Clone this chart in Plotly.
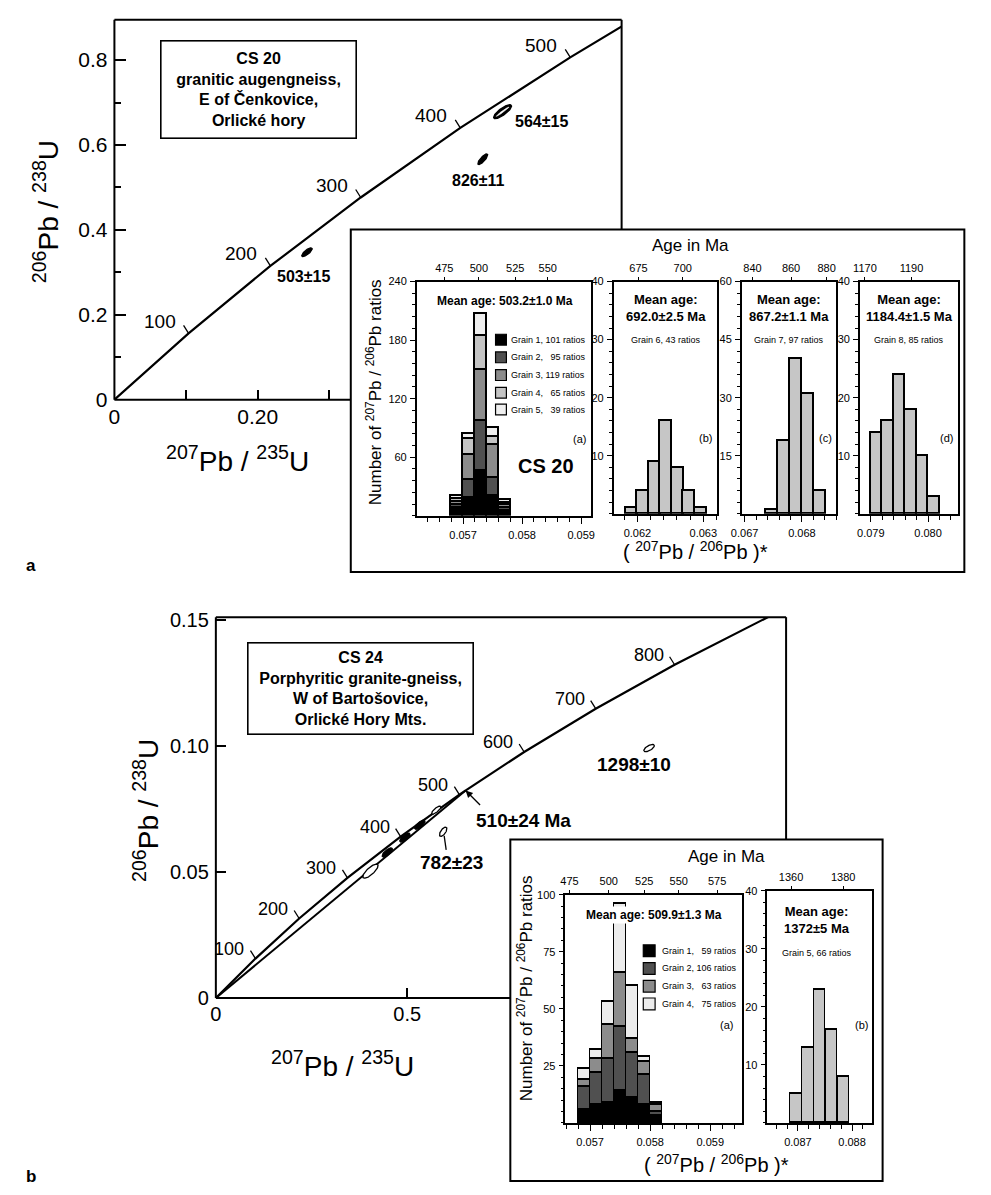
import numpy as np
import plotly.graph_objects as go

W, H = 991, 1195
FONT = "Liberation Sans, Arial, Helvetica, sans-serif"

def PX(x): return x / W
def PY(y): return 1 - y / H
def DX(a, b): return [a / W, b / W]
def DY(top, bottom): return [1 - bottom / H, 1 - top / H]

# ======================= DATA =======================
# Concordia (a)  (206Pb/238U axis as labelled in the figure)
conc_a_age = [0, 100, 200, 300, 400, 500, 560]
conc_a_x = [0.0, 0.1035, 0.2177, 0.3438, 0.4828, 0.6363, 0.7359]
conc_a_y = [0.0, 0.1563, 0.3151, 0.4764, 0.6402, 0.8065, 0.9075]
conc_a_tick_ages = [100, 200, 300, 400, 500]

# Concordia (b)
conc_b_age = [0, 100, 200, 300, 400, 500, 600, 700, 800, 910]
conc_b_x = [0.0, 0.1035, 0.2177, 0.3438, 0.4828, 0.6363, 0.8056, 0.9925, 1.1987, 1.4503]
conc_b_y = [0.0, 0.01563, 0.03151, 0.04764, 0.06402, 0.08065, 0.09754, 0.11470, 0.13213, 0.15161]
conc_b_tick_ages = [100, 200, 300, 400, 500, 600, 700, 800]
disc_b_x = [0.0, 0.6525]
disc_b_y = [0.0, 0.0823]
intercept_label = "510±24 Ma"

# Analyses (ellipse centres)
ell_a_label = ["503±15", "564±15", "826±11"]
ell_a_x = [0.2688, 0.5418, 0.5142]
ell_a_y = [0.3474, 0.6785, 0.5666]

ell_b_label = ["", "", "", "", "", "782±23", "1298±10"]
ell_b_x = [0.404, 0.448, 0.494, 0.533, 0.576, 0.594, 1.132]
ell_b_y = [0.0503, 0.0577, 0.0636, 0.0687, 0.0745, 0.0659, 0.0991]

# Histograms (207Pb/206Pb)*
aa_bins = [0.0569, 0.0571, 0.0573, 0.0575, 0.0577]
aa_grains = [
    [8, 19, 46, 21, 5],
    [3, 18, 52, 18, 3],
    [4, 26, 52, 34, 3],
    [3, 16, 35, 8, 3],
    [3, 5, 22, 9, 3],
]
aa_grain_n = [101, 95, 119, 65, 39]
aa_width = 0.0002

ab_bins = [0.06191, 0.06208, 0.06226, 0.06243, 0.06261, 0.06278, 0.06296]
ab_counts = [1, 4, 9, 16, 8, 4, 1]
ab_width = 0.000175

ac_bins = [0.06747, 0.06768, 0.06789, 0.06810, 0.06831]
ac_counts = [1, 19, 40, 31, 6]
ac_width = 0.00021

ad_bins = [0.0791, 0.0793, 0.0795, 0.0797, 0.0799, 0.0801]
ad_counts = [14, 16, 24, 18, 10, 3]
ad_width = 0.0002

ba_bins = [0.0569, 0.0571, 0.0573, 0.0575, 0.0577, 0.0579, 0.0581]
ba_grains = [
    [6, 8, 9, 14, 11, 8, 3],
    [10, 14, 19, 28, 20, 13, 2],
    [3, 6, 15, 24, 6, 6, 3],
    [5, 4, 10, 30, 23, 2, 1],
]
ba_grain_n = [59, 106, 63, 75]
ba_width = 0.0002

bb_bins = [0.08697, 0.08719, 0.08741, 0.08763, 0.08785]
bb_counts = [5, 13, 23, 16, 8]
bb_width = 0.00021

# Age (Ma) tick labels of the top axes and their (207Pb/206Pb)* positions
aa_age = [475, 500, 525, 550]
aa_age_pos = [0.056683, 0.057267, 0.057883, 0.058433]
ab_age = [675, 700]
ab_age_pos = [0.062015, 0.062687]
ac_age = [840, 860, 880]
ac_age_pos = [0.067138, 0.06781, 0.068431]
ad_age = [1170, 1190]
ad_age_pos = [0.078897, 0.07971]
ba_age = [475, 500, 525, 550, 575]
ba_age_pos = [0.056656, 0.057311, 0.057902, 0.058475, 0.059115]
bb_age = [1360, 1380]
bb_age_pos = [0.086873, 0.087836]

# ======================= STYLE / LAYOUT =======================
GRAIN_COL_A = ["#000000", "#505050", "#8c8c8c", "#c4c4c4", "#efefef"]
GRAIN_COL_B = ["#000000", "#505050", "#8c8c8c", "#ececec"]
SINGLE_COL = "#c6c6c6"

# subplot boxes in pixels (left, right, top, bottom)
CA = (105, 620, 12, 398); CA_RX = [0, 0.708]; CA_RY = [0, 0.895]
CB = (208, 787, 619, 1006); CB_RX = [0, 1.49]; CB_RY = [0, 0.151]
INSET_A = (345, 968, 225, 573)
INSET_B = (507, 885, 845, 1192)

AA = (412, 589, 278, 516); AA_RX = [0.056217, 0.059167]; AA_RY = [0, 240]
AB = (612, 717, 278, 514); AB_RX = [0.06164, 0.06321]; AB_RY = [0, 40]
AC = (742, 838, 278, 514); AC_RX = [0.06695, 0.0686]; AC_RY = [0, 60]
AD = (862, 962, 278, 514); AD_RX = [0.07881, 0.08053]; AD_RY = [0, 40]
BA = (563, 742, 901, 1133); BA_RX = [0.05659, 0.059525]; BA_RY = [0, 100]
BB = (768, 874, 897, 1133); BB_RX = [0.086436, 0.088364]; BB_RY = [0, 40]

# ellipse geometry (pixels): length, width, angle, style
ell_a_len = [13, 22, 14]; ell_a_wid = [4.5, 7, 4.5]; ell_a_ang = [38, 36, 48]
ell_a_style = ["filled", "slit", "filled"]
ell_a_lbl_off = [(-3, -24), (39, -10), (-5, -21)]

ell_b_len = [20, 13, 13, 13, 12, 11, 12]; ell_b_wid = [7, 5, 5, 5, 4, 5, 5]
ell_b_ang = [42, 40, 40, 40, 40, 55, 30]
ell_b_style = ["open", "filled", "filled", "filled", "open", "open", "open"]
ell_b_lbl_off = [None, None, None, None, None, (8, -31), (-15, -16)]

fig = go.Figure()


def scale(box, rx, ry):
    return (box[1] - box[0]) / (rx[1] - rx[0]), (box[3] - box[2]) / (ry[1] - ry[0])


def ellipse_xy(cx, cy, L, Wd, ang, sx, sy):
    t = np.linspace(0, 2 * np.pi, 90)
    u = L / 2 * np.cos(t)
    v = Wd / 2 * np.sin(t)
    th = np.radians(ang)
    X = u * np.cos(th) - v * np.sin(th)
    Y = u * np.sin(th) + v * np.cos(th)
    return cx + X / sx, cy + Y / sy


def add_ellipse(cx, cy, L, Wd, ang, sx, sy, style, xa, ya):
    ex, ey = ellipse_xy(cx, cy, L, Wd, ang, sx, sy)
    fill = "white" if style == "open" else "black"
    fig.add_trace(go.Scatter(x=ex, y=ey, mode="lines", fill="toself", fillcolor=fill,
                             line=dict(color="black", width=1.3),
                             xaxis=xa, yaxis=ya, hoverinfo="skip", showlegend=False))
    if style == "slit":
        ix, iy = ellipse_xy(cx, cy, L * 0.72, 1.6, ang, sx, sy)
        fig.add_trace(go.Scatter(x=ix, y=iy, mode="lines", fill="toself", fillcolor="white",
                                 line=dict(color="white", width=0.6),
                                 xaxis=xa, yaxis=ya, hoverinfo="skip", showlegend=False))


annotations = []
shapes = []


def ann(text, x, y, size, xanchor="center", yanchor="middle", **kw):
    d = dict(text=text, x=PX(x), y=PY(y), xref="paper", yref="paper", showarrow=False,
             font=dict(family=FONT, size=size, color="black"), xanchor=xanchor, yanchor=yanchor)
    d.update(kw)
    annotations.append(d)


# ---------------- concordia (a) ----------------
fig.add_trace(go.Scatter(x=conc_a_x, y=conc_a_y, mode="lines", line=dict(color="black", width=2.2),
                         xaxis="x", yaxis="y", hoverinfo="skip", showlegend=False))
sxa, sya = scale(CA, CA_RX, CA_RY)
for i in range(len(ell_a_x)):
    add_ellipse(ell_a_x[i], ell_a_y[i], ell_a_len[i], ell_a_wid[i], ell_a_ang[i], sxa, sya,
                ell_a_style[i], "x", "y")
    dxo, dyo = ell_a_lbl_off[i]
    annotations.append(dict(text="<b>%s</b>" % ell_a_label[i], x=ell_a_x[i], y=ell_a_y[i], xref="x", yref="y",
                            xshift=dxo, yshift=dyo, showarrow=False,
                            font=dict(family=FONT, size=16, color="black")))
for age in conc_a_tick_ages:
    k = conc_a_age.index(age)
    shapes.append(dict(type="line", xref="x", yref="y", xsizemode="pixel", ysizemode="pixel",
                       xanchor=conc_a_x[k], yanchor=conc_a_y[k], x0=0, y0=0, x1=-5, y1=8,
                       line=dict(color="black", width=1.3)))
    annotations.append(dict(text=str(age), x=conc_a_x[k], y=conc_a_y[k], xref="x", yref="y",
                            xanchor="right", yanchor="middle", xshift=-11, yshift=12, showarrow=False,
                            font=dict(family=FONT, size=19, color="black")))

# ---------------- concordia (b) ----------------
fig.add_trace(go.Scatter(x=conc_b_x, y=conc_b_y, mode="lines", line=dict(color="black", width=2.2),
                         xaxis="x2", yaxis="y2", hoverinfo="skip", showlegend=False))
fig.add_trace(go.Scatter(x=disc_b_x, y=disc_b_y, mode="lines", line=dict(color="black", width=2.0),
                         xaxis="x2", yaxis="y2", hoverinfo="skip", showlegend=False))
sxb, syb = scale(CB, CB_RX, CB_RY)
for i in range(len(ell_b_x)):
    add_ellipse(ell_b_x[i], ell_b_y[i], ell_b_len[i], ell_b_wid[i], ell_b_ang[i], sxb, syb,
                ell_b_style[i], "x2", "y2")
    if ell_b_label[i]:
        dxo, dyo = ell_b_lbl_off[i]
        annotations.append(dict(text="<b>%s</b>" % ell_b_label[i], x=ell_b_x[i], y=ell_b_y[i],
                                xref="x2", yref="y2", xshift=dxo, yshift=dyo, showarrow=False,
                                font=dict(family=FONT, size=19, color="black")))
# leader line from the 782 ellipse
k782 = ell_b_label.index("782±23")
shapes.append(dict(type="line", xref="x2", yref="y2", xsizemode="pixel", ysizemode="pixel",
                   xanchor=ell_b_x[k782], yanchor=ell_b_y[k782], x0=1, y0=-4, x1=3, y1=-18,
                   line=dict(color="black", width=1.3)))
for age in conc_b_tick_ages:
    k = conc_b_age.index(age)
    shapes.append(dict(type="line", xref="x2", yref="y2", xsizemode="pixel", ysizemode="pixel",
                       xanchor=conc_b_x[k], yanchor=conc_b_y[k], x0=0, y0=0, x1=-5, y1=8,
                       line=dict(color="black", width=1.3)))
    annotations.append(dict(text=str(age), x=conc_b_x[k], y=conc_b_y[k], xref="x2", yref="y2",
                            xanchor="right", yanchor="middle", xshift=-9, yshift=10, showarrow=False,
                            font=dict(family=FONT, size=18, color="black")))
# upper intercept arrow + label
annotations.append(dict(text="", x=disc_b_x[1], y=disc_b_y[1], xref="x2", yref="y2", showarrow=True,
                        ax=16, ay=16, arrowhead=2, arrowsize=1.1, arrowwidth=1.3, arrowcolor="black"))
annotations.append(dict(text="<b>%s</b>" % intercept_label, x=disc_b_x[1], y=disc_b_y[1], xref="x2", yref="y2",
                        xshift=58, yshift=-30, showarrow=False,
                        font=dict(family=FONT, size=19, color="black")))

# ---------------- histograms ----------------
def add_bars(bins, counts, width, color, xa, ya):
    fig.add_trace(go.Bar(x=bins, y=counts, width=[width] * len(bins),
                         marker=dict(color=color, line=dict(color="black", width=1.5)),
                         xaxis=xa, yaxis=ya, hoverinfo="skip", showlegend=False))

for g, cnt in enumerate(aa_grains):
    add_bars(aa_bins, cnt, aa_width, GRAIN_COL_A[g], "x3", "y3")
add_bars(ab_bins, ab_counts, ab_width, SINGLE_COL, "x4", "y4")
add_bars(ac_bins, ac_counts, ac_width, SINGLE_COL, "x5", "y5")
add_bars(ad_bins, ad_counts, ad_width, SINGLE_COL, "x6", "y6")
for g, cnt in enumerate(ba_grains):
    add_bars(ba_bins, cnt, ba_width, GRAIN_COL_B[g], "x7", "y7")
add_bars(bb_bins, bb_counts, bb_width, SINGLE_COL, "x8", "y8")
# dummy traces for the age (top) axes
for i in range(6):
    fig.add_trace(go.Scatter(x=[None], y=[None], xaxis="x%d" % (9 + i), yaxis="y%d" % (3 + i),
                             hoverinfo="skip", showlegend=False))

TF = dict(family=FONT, size=11, color="black")


def hx(box, rng, anchor, tick0):
    return dict(domain=DX(box[0], box[1]), range=rng, anchor=anchor, tickmode="linear", tick0=tick0,
                dtick=0.001, tickformat=".3f", ticks="outside", ticklen=6, tickwidth=1.3, tickcolor="black",
                showline=True, linecolor="black", linewidth=1.6, mirror=True, showgrid=False, zeroline=False,
                tickfont=TF, ticklabelstandoff=2,
                minor=dict(tickmode="linear", tick0=tick0, dtick=0.0002, ticks="outside", ticklen=4,
                           tickwidth=1.1, tickcolor="black", showgrid=False), fixedrange=True)


def hy(box, rng, anchor, vals, mdt):
    return dict(domain=DY(box[2], box[3]), range=rng, anchor=anchor, tickmode="array", tickvals=vals,
                ticks="outside", ticklen=5, tickwidth=1.3, tickcolor="black", showline=True,
                linecolor="black", linewidth=1.6, mirror=True, showgrid=False, zeroline=False,
                tickfont=TF, ticklabelstandoff=1,
                minor=dict(tickmode="linear", tick0=0, dtick=mdt, ticks="outside", ticklen=3,
                           tickwidth=1.1, tickcolor="black", showgrid=False), fixedrange=True)


def htop(overlay, anchor, rng, vals, text):
    return dict(overlaying=overlay, anchor=anchor, side="top", range=rng, tickmode="array",
                tickvals=vals, ticktext=[str(v) for v in text], ticks="outside", ticklen=4,
                tickwidth=1.3, tickcolor="black", showline=False, showgrid=False, zeroline=False,
                tickfont=TF, fixedrange=True)


layout = dict(
    width=W, height=H, autosize=False, margin=dict(l=0, r=0, t=0, b=0),
    paper_bgcolor="white", plot_bgcolor="white", showlegend=False,
    barmode="stack", bargap=0, font=dict(family=FONT, color="black"),
    xaxis=dict(domain=DX(CA[0], CA[1]), range=CA_RX, anchor="y", tickmode="array", tickvals=[0, 0.2],
               ticktext=["0", "0.20"], ticks="inside", ticklen=10, tickwidth=1.5, tickcolor="black",
               minor=dict(tickmode="array", tickvals=[0.1, 0.3], ticks="inside", ticklen=10, tickwidth=1.5,
                          tickcolor="black"),
               showline=False, showgrid=False, zeroline=False, tickfont=dict(family=FONT, size=21, color="black"),
               ticklabelstandoff=2, fixedrange=True),
    yaxis=dict(domain=DY(CA[2], CA[3]), range=CA_RY, anchor="x", tickmode="array",
               tickvals=[0, 0.2, 0.4, 0.6, 0.8], ticktext=["0", "0.2", "0.4", "0.6", "0.8"],
               ticks="inside", ticklen=12, tickwidth=1.5, tickcolor="black",
               minor=dict(tickmode="array", tickvals=[0.1, 0.3, 0.5, 0.7], ticks="inside", ticklen=7,
                          tickwidth=1.5, tickcolor="black"),
               showline=False, showgrid=False, zeroline=False, tickfont=dict(family=FONT, size=21, color="black"),
               ticklabelstandoff=6, fixedrange=True),
    xaxis2=dict(domain=DX(CB[0], CB[1]), range=CB_RX, anchor="y2", tickmode="array", tickvals=[0, 0.5],
                ticktext=["0", "0.5"], ticks="inside", ticklen=10, tickwidth=1.5, tickcolor="black",
                showline=False, showgrid=False, zeroline=False, tickfont=dict(family=FONT, size=20, color="black"),
                ticklabelstandoff=2, fixedrange=True),
    yaxis2=dict(domain=DY(CB[2], CB[3]), range=CB_RY, anchor="x2", tickmode="array",
                tickvals=[0, 0.05, 0.10, 0.15], ticktext=["0", "0.05", "0.10", "0.15"],
                ticks="inside", ticklen=10, tickwidth=1.5, tickcolor="black",
                showline=False, showgrid=False, zeroline=False, tickfont=dict(family=FONT, size=20, color="black"),
                ticklabelstandoff=6, fixedrange=True),
    xaxis3=hx(AA, AA_RX, "y3", 0.057), yaxis3=hy(AA, AA_RY, "x3", [60, 120, 180, 240], 12),
    xaxis4=hx(AB, AB_RX, "y4", 0.062), yaxis4=hy(AB, AB_RY, "x4", [10, 20, 30, 40], 2),
    xaxis5=hx(AC, AC_RX, "y5", 0.067), yaxis5=hy(AC, AC_RY, "x5", [15, 30, 45, 60], 3),
    xaxis6=hx(AD, AD_RX, "y6", 0.079), yaxis6=hy(AD, AD_RY, "x6", [10, 20, 30, 40], 2),
    xaxis7=hx(BA, BA_RX, "y7", 0.057), yaxis7=hy(BA, BA_RY, "x7", [25, 50, 75, 100], 5),
    xaxis8=hx(BB, BB_RX, "y8", 0.087), yaxis8=hy(BB, BB_RY, "x8", [10, 20, 30, 40], 2),
    xaxis9=htop("x3", "y3", AA_RX, aa_age_pos, aa_age),
    xaxis10=htop("x4", "y4", AB_RX, ab_age_pos, ab_age),
    xaxis11=htop("x5", "y5", AC_RX, ac_age_pos, ac_age),
    xaxis12=htop("x6", "y6", AD_RX, ad_age_pos, ad_age),
    xaxis13=htop("x7", "y7", BA_RX, ba_age_pos, ba_age),
    xaxis14=htop("x8", "y8", BB_RX, bb_age_pos, bb_age),
)

# ---------------- frames ----------------
LW = 2.0
def pline(x0, y0, x1, y1, w=LW, layer="above"):
    shapes.append(dict(type="line", xref="paper", yref="paper", x0=PX(x0), y0=PY(y0), x1=PX(x1), y1=PY(y1),
                       line=dict(color="black", width=w), layer=layer))

for (box, inset) in [(CA, INSET_A), (CB, INSET_B)]:
    l, r, t, b = box
    pline(l, t, l, b)
    pline(l, t, r, t)
    pline(r, t, r, inset[2])
    pline(l, b, inset[0], b)
    il, ir, it, ib = inset
    shapes.append(dict(type="rect", xref="paper", yref="paper", x0=PX(il), x1=PX(ir), y0=PY(ib), y1=PY(it),
                       line=dict(color="black", width=LW), fillcolor="white", layer="below"))

# ---------------- legends (grain keys) ----------------
def legend(x_key, size, rows, x_text, counts, cols):
    for i, (yc, n) in enumerate(zip(rows, counts)):
        shapes.append(dict(type="rect", xref="paper", yref="paper", x0=PX(x_key), x1=PX(x_key + size),
                           y0=PY(yc + size / 2), y1=PY(yc - size / 2), fillcolor=cols[i],
                           line=dict(color="black", width=1.2), layer="above"))
        txt = "Grain %d, %s ratios" % (i + 1, ("\u00a0\u00a0" + str(n)) if n < 100 else str(n))
        ann(txt, x_text, yc, 9, xanchor="left")

legend(492, 11, [337, 355, 373, 391, 408], 506, aa_grain_n, GRAIN_COL_A)
legend(642, 12, [958, 976, 994, 1012], 659, ba_grain_n, GRAIN_COL_B)

# ---------------- texts ----------------
box_a = "<b>CS 20<br>granitic augengneiss,<br>E of Čenkovice,<br>Orlické hory</b>"
annotations.append(dict(text=box_a, x=PX(251), y=PY(83), xref="paper", yref="paper", showarrow=False,
                        font=dict(family=FONT, size=16, color="black"), width=190, height=92,
                        bordercolor="black", borderwidth=1.6, borderpad=2, bgcolor="white",
                        xanchor="center", yanchor="middle"))
box_b = "<b>CS 24<br>Porphyritic granite-gneiss,<br>W of Bartošovice,<br>Orlické Hory Mts.</b>"
annotations.append(dict(text=box_b, x=PX(355), y=PY(692), xref="paper", yref="paper", showarrow=False,
                        font=dict(family=FONT, size=16, color="black"), width=220, height=86,
                        bordercolor="black", borderwidth=1.6, borderpad=2, bgcolor="white",
                        xanchor="center", yanchor="middle"))

ann("<sup>206</sup>Pb / <sup>238</sup>U", 35, 207, 28, textangle=-90)
ann("<sup>207</sup>Pb / <sup>235</sup>U", 230, 458, 28)
ann("<sup>206</sup>Pb / <sup>238</sup>U", 137, 815, 28, textangle=-90)
ann("<sup>207</sup>Pb / <sup>235</sup>U", 337, 1073, 28)
ann("<b>a</b>", 20, 567, 17)
ann("<b>b</b>", 20, 1187, 17)

# inset (a)
ann("Age in Ma", 690, 241, 17)
ann("( <sup>207</sup>Pb / <sup>206</sup>Pb )*", 695, 551, 20)
ann("Number of <sup>207</sup>Pb / <sup>206</sup>Pb ratios", 368, 390, 17, textangle=-90)
ann("<b>Mean age: 503.2±1.0 Ma</b>", 502, 298, 12)
ann("(a)", 577, 438, 11)
ann("<b>CS 20</b>", 543, 465, 20)
ann("<b>Mean age:<br>692.0±2.5 Ma</b>", 665, 305, 13)
ann("Grain 6, 43 ratios", 665, 337, 9)
ann("(b)", 705, 437, 11)
ann("<b>Mean age:<br>867.2±1.1 Ma</b>", 790, 305, 13)
ann("Grain 7, 97 ratios", 790, 337, 9)
ann("(c)", 827, 437, 11)
ann("<b>Mean age:<br>1184.4±1.5 Ma</b>", 912, 305, 13)
ann("Grain 8, 85 ratios", 912, 337, 9)
ann("(d)", 950, 437, 11)

# inset (b)
ann("Age in Ma", 727, 862, 17)
ann("( <sup>207</sup>Pb / <sup>206</sup>Pb )*", 716, 1174, 20)
ann("Number of <sup>207</sup>Pb / <sup>206</sup>Pb ratios", 522, 996, 17, textangle=-90)
ann("<b>Mean age: 509.9±1.3 Ma</b>", 653, 922, 12, bgcolor="white")
ann("(a)", 727, 1033, 11)
ann("<b>Mean age:<br>1372±5 Ma</b>", 818, 927, 13)
ann("Grain 5, 66 ratios", 818, 960, 9)
ann("(b)", 864, 1033, 11)

layout["annotations"] = annotations
layout["shapes"] = shapes
fig.update_layout(**layout)
fig.write_html("out.html")
